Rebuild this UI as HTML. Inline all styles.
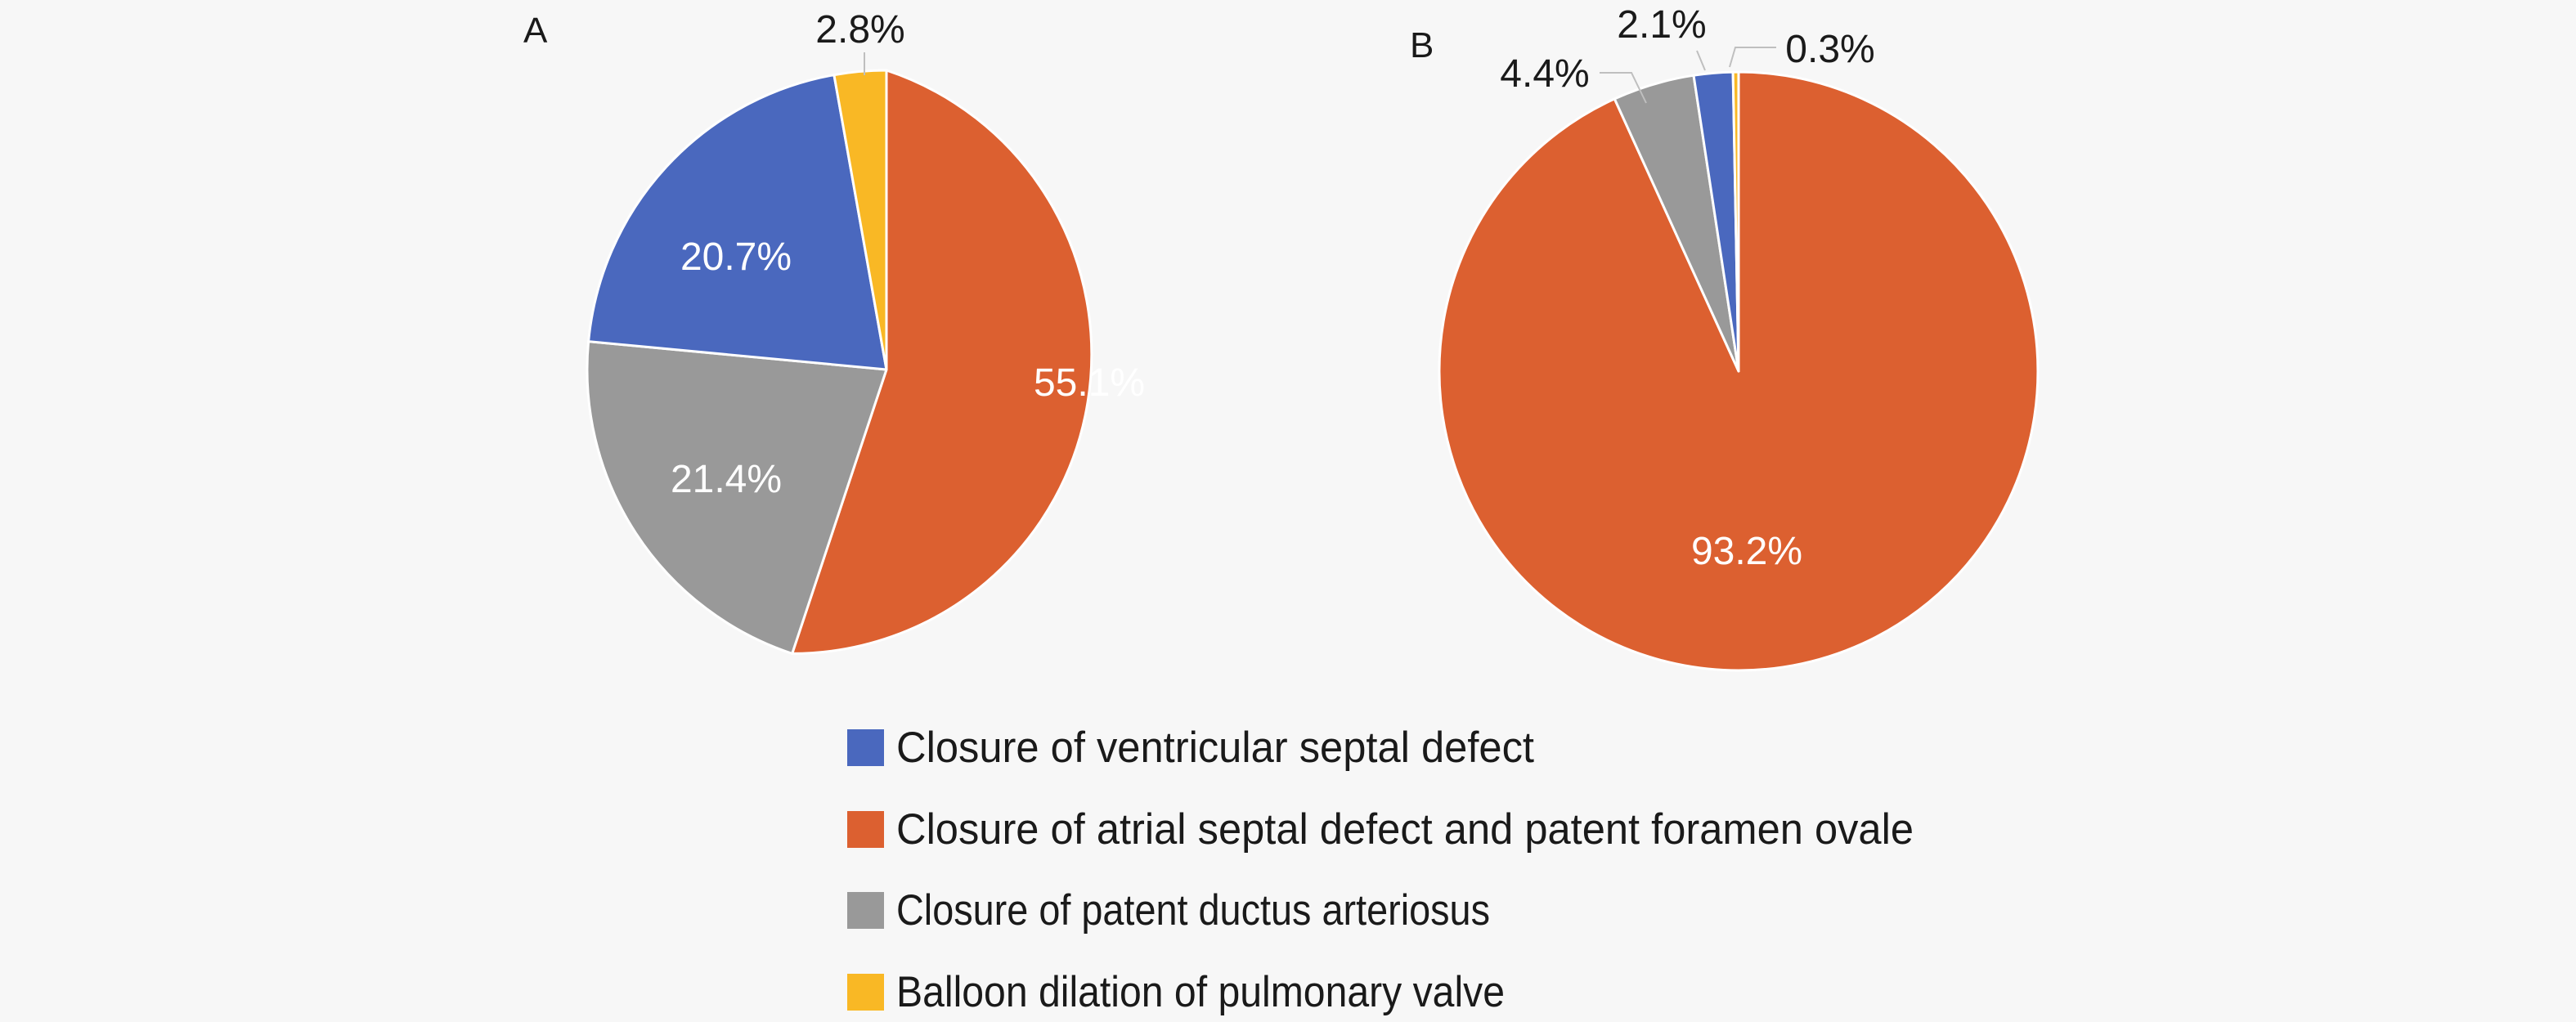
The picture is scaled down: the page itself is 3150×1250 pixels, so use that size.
<!DOCTYPE html>
<html><head><meta charset="utf-8"><style>
html,body{margin:0;padding:0;background:#f7f7f7;}
svg{display:block;}
text{font-family:"Liberation Sans",sans-serif;}
</style></head><body>
<svg width="3150" height="1250" viewBox="0 0 3150 1250" xmlns="http://www.w3.org/2000/svg">
<rect width="3150" height="1250" fill="#f7f7f7"/>
<g stroke="#ffffff" stroke-width="3" stroke-linejoin="round">
<path d="M1084,452 L1084,86 A366,366 0 0 1 968.7,799.4 Z" fill="#dc6030"/>
<path d="M1084,452 L968.7,799.4 A366,366 0 0 1 719.6,417.6 Z" fill="#999999"/>
<path d="M1084,452 L719.6,417.6 A366,366 0 0 1 1019.9,91.6 Z" fill="#4a68be"/>
<path d="M1084,452 L1019.9,91.6 A366,366 0 0 1 1084,86 Z" fill="#f9b825"/>
<path d="M2126,454 L2126,88 A366,366 0 1 1 1974.3,120.9 Z" fill="#dc6030"/>
<path d="M2126,454 L1974.3,120.9 A366,366 0 0 1 2071,92.2 Z" fill="#999999"/>
<path d="M2126,454 L2071,92.2 A366,366 0 0 1 2119.1,88.1 Z" fill="#4a68be"/>
<path d="M2126,454 L2119.1,88.1 A366,366 0 0 1 2126,88 Z" fill="#f9b825"/>
</g>
<g stroke="#bfbfbf" stroke-width="2" fill="none">
<path d="M1057,64 L1057,92"/>
<path d="M1956,89 L1995,89 L2013,126"/>
<path d="M2075,62 L2085,86"/>
<path d="M2172,58 L2122,58 L2115,82"/>
</g>
<g font-size="48" fill="#1a1a1a">
<text x="640" y="52" font-size="44">A</text>
<text x="1724" y="70" font-size="44">B</text>
<text x="1052" y="52" text-anchor="middle">2.8%</text>
<text x="1889" y="106" text-anchor="middle">4.4%</text>
<text x="2032" y="46" text-anchor="middle">2.1%</text>
<text x="2238" y="76" text-anchor="middle">0.3%</text>
</g>
<g font-size="48" fill="#ffffff" text-anchor="middle">
<text x="900" y="330">20.7%</text>
<text x="1332" y="484">55.1%</text>
<text x="888" y="602">21.4%</text>
<text x="2136" y="690">93.2%</text>
</g>
<g>
<rect x="1036" y="892" width="45" height="45" fill="#4a68be"/>
<rect x="1036" y="992" width="45" height="45" fill="#dc6030"/>
<rect x="1036" y="1091" width="45" height="45" fill="#999999"/>
<rect x="1036" y="1191" width="45" height="45" fill="#f9b825"/>
</g>
<g font-size="53" fill="#1a1a1a">
<text x="1096" y="932" textLength="780" lengthAdjust="spacingAndGlyphs">Closure of ventricular septal defect</text>
<text x="1096" y="1032" textLength="1244" lengthAdjust="spacingAndGlyphs">Closure of atrial septal defect and patent foramen ovale</text>
<text x="1096" y="1131" textLength="726" lengthAdjust="spacingAndGlyphs">Closure of patent ductus arteriosus</text>
<text x="1096" y="1231" textLength="744" lengthAdjust="spacingAndGlyphs">Balloon dilation of pulmonary valve</text>
</g>
</svg>
</body></html>
